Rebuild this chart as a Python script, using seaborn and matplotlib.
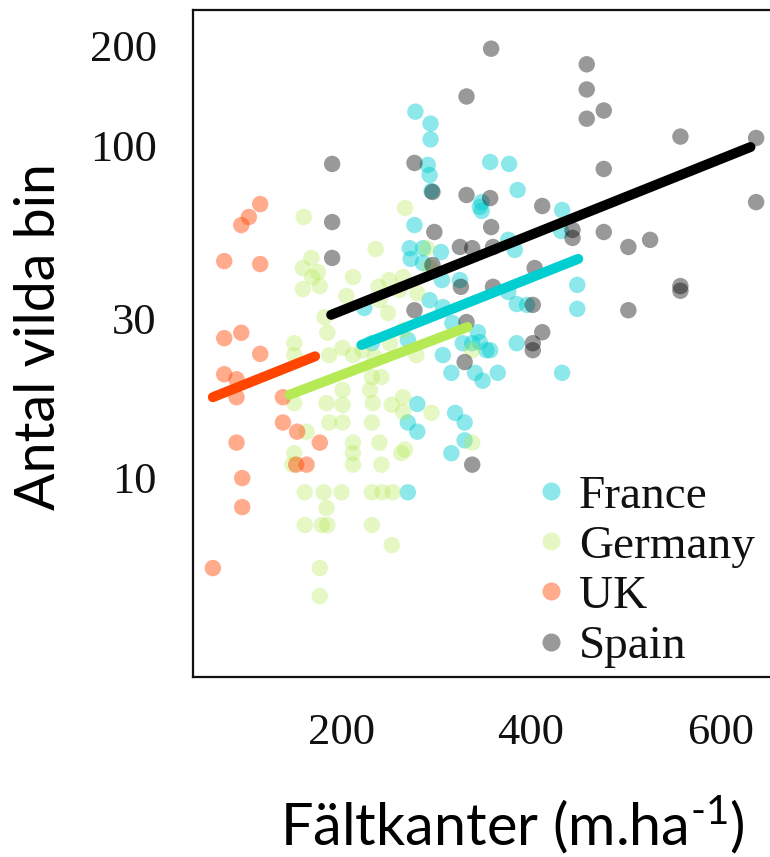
import numpy as np
import pandas as pd
import matplotlib
matplotlib.use("Agg")
import matplotlib.pyplot as plt
from matplotlib.lines import Line2D
import seaborn as sns

# ---------------- data ----------------
countries = ["France", "Germany", "UK", "Spain"]

france_x = [278, 294, 294, 291, 293, 295, 346, 357, 377, 386, 348, 348, 433, 432, 277, 272,
            286, 305, 273, 286, 306, 376, 383, 293, 376, 385, 396, 449, 449, 317, 307, 344,
            338, 357, 328, 385, 307, 316, 341, 349, 365, 433, 280, 270, 280, 320, 330, 330,
            316, 270, 232, 270, 346, 353, 224, 325]
france_y = [126, 116, 104, 87.1, 81.2, 72.7, 65.1, 88.9, 87.7, 73.2, 67.3, 63.3, 63.7, 55.1,
            57.4, 48.9, 48.9, 47.6, 45.4, 44.1, 39.2, 51.8, 48.3, 34.1, 36.1, 33.2, 33.0, 37.9,
            32.1, 29.1, 32.5, 27.3, 25.3, 24.1, 25.3, 25.3, 23.3, 20.6, 20.6, 19.5, 20.6, 20.6,
            16.6, 14.6, 13.7, 15.6, 14.6, 12.9, 11.8, 9.0, 25.3, 25.9, 25.5, 24.1, 32.3, 39.2]

germany_x = [160, 267, 236, 168, 159, 175, 169, 159, 177, 212, 205, 182, 185, 250, 239, 240,
             249, 265, 280, 290, 293, 150, 150, 187, 201, 212, 222, 235, 251, 265, 261, 232,
             242, 201, 230, 150, 184, 233, 265, 265, 279, 201, 253, 295, 187, 201, 232, 163,
             212, 240, 150, 212, 263, 148, 212, 242, 338, 338, 161, 181, 200, 232, 243, 254,
             184, 161, 179, 185, 232, 253, 177, 177, 267]
germany_y = [60.7, 64.6, 48.6, 45.7, 42.6, 41.4, 40.0, 36.8, 37.6, 40.0, 35.1, 30.3, 27.2,
             39.2, 37.4, 34.1, 31.2, 40.0, 35.8, 48.9, 42.9, 25.3, 23.3, 23.3, 24.5, 23.3,
             24.1, 23.0, 25.3, 27.7, 36.6, 20.0, 20.0, 18.3, 18.3, 16.7, 16.7, 16.7, 17.4,
             15.7, 23.3, 16.5, 16.5, 15.6, 14.6, 14.6, 14.6, 13.7, 12.7, 12.7, 11.8, 11.8,
             11.8, 10.9, 10.9, 10.9, 12.7, 24.1, 9.0, 9.0, 9.0, 9.0, 9.0, 9.0, 8.07, 7.17,
             7.17, 7.17, 7.17, 6.24, 5.32, 4.38, 12.1]

uk_x = [114, 102, 94, 76, 114, 76, 94, 114, 76, 89, 89, 138, 138, 153, 89, 177, 152, 163,
        95, 95, 64]
uk_y = [66.4, 60.7, 57.4, 44.7, 43.8, 26.2, 27.2, 23.5, 20.4, 19.7, 17.4, 17.4, 14.6, 13.7,
        12.7, 12.7, 10.9, 10.9, 9.93, 8.12, 5.32]

spain_x = [358, 459, 459, 477, 459, 332, 558, 638, 477, 638, 190, 277, 296, 332, 357, 412,
           190, 298, 358, 444, 444, 477, 190, 325, 338, 360, 503, 526, 296, 404, 558, 558,
           326, 360, 402, 277, 332, 412, 402, 402, 503, 330, 338]
spain_y = [195, 175, 147, 127, 120, 140, 106, 105, 84.7, 67.3, 87.7, 88.3, 72.2, 70.7, 69.2,
           65.5, 58.6, 54.7, 56.6, 55.5, 52.5, 54.7, 45.7, 49.3, 48.9, 49.3, 49.3, 51.8, 43.5,
           42.6, 37.6, 36.4, 37.4, 37.4, 33.0, 31.8, 29.3, 27.3, 25.3, 24.1, 31.8, 22.2, 10.9]

# fitted trend lines (start / end)
fit_x = {"France": [221, 450], "Germany": [145, 333], "UK": [64, 172], "Spain": [189, 632]}
fit_y = {"France": [25.0, 45.4], "Germany": [17.7, 28.3], "UK": [17.4, 23.1], "Spain": [30.8, 98.6]}

x_ticks = [200, 400, 600]
y_ticks = [10, 30, 100, 200]

# ---------------- styling ----------------
line_colors = {"France": "#00CED1", "Germany": "#B5EA55", "UK": "#FF4500", "Spain": "#000000"}
point_alpha = {"France": 0.45, "Germany": 0.35, "UK": 0.45, "Spain": 0.4}

sns.set_style("white")
plt.rcParams["mathtext.fontset"] = "custom"
plt.rcParams["mathtext.rm"] = "Lato"
plt.rcParams["mathtext.default"] = "rm"

frames = []
for c, xs, ys in [("France", france_x, france_y), ("Germany", germany_x, germany_y),
                  ("UK", uk_x, uk_y), ("Spain", spain_x, spain_y)]:
    frames.append(pd.DataFrame({"x": xs, "y": ys, "country": c}))
df = pd.concat(frames, ignore_index=True)

fig = plt.figure(figsize=(7.7, 8.57), dpi=100)
# axes extends past the right edge of the canvas (the reference is cropped there)
ax = fig.add_axes([193 / 770, 1 - 677 / 857, (900 - 193) / 770, (677 - 10) / 857])
ax.patch.set_edgecolor("none")
ax.patch.set_linewidth(0)

for c in countries:
    sub = df[df.country == c]
    sns.scatterplot(data=sub, x="x", y="y", color=line_colors[c], alpha=point_alpha[c],
                    s=140, edgecolor="none", linewidth=0, ax=ax, legend=False, zorder=2)

for c in ["Spain", "France", "Germany", "UK"]:
    fd = pd.DataFrame({"x": fit_x[c], "y": fit_y[c]})
    sns.lineplot(data=fd, x="x", y="y", color=line_colors[c], linewidth=7.2, ax=ax,
                 solid_capstyle="round", zorder=3, legend=False)

ax.set_yscale("log")
ax.set_xlim(43, 790)
ax.set_ylim(2.5, 255)
ax.set_xticks(x_ticks)
ax.set_xticklabels([str(v) for v in x_ticks])
ax.set_yticks(y_ticks)
ax.set_yticklabels([str(v) for v in y_ticks])
ax.yaxis.set_minor_locator(matplotlib.ticker.NullLocator())
ax.set_xlabel("")
ax.set_ylabel("")

for s in ax.spines.values():
    s.set_linewidth(1.6)
    s.set_color("#111111")
ax.spines["right"].set_visible(False)

ax.tick_params(axis="both", which="major", direction="out", length=14, width=1.6,
               color="#333333", pad=12, labelsize=32, labelcolor="#111111")
for lab in ax.get_xticklabels() + ax.get_yticklabels():
    lab.set_fontfamily("Liberation Serif")

# legend (placed in figure pixel terms so it does not depend on the axes width)
handles = [Line2D([0], [0], marker="o", linestyle="none", markersize=13,
                  markerfacecolor=line_colors[c], markeredgecolor="none",
                  alpha=point_alpha[c]) for c in countries]
leg = fig.legend(handles, countries, loc="upper left",
                 bbox_to_anchor=(508 / 770, 1 - 451 / 857),
                 frameon=False, borderpad=0, handlelength=0.8, handletextpad=0.2,
                 labelspacing=0.15, prop={"family": "Liberation Serif", "size": 34})
for t in leg.get_texts():
    t.set_color("#111111")

fig.text(40 / 770, 1 - 337 / 857, "Antal vilda bin", rotation=90, ha="center", va="center",
         fontsize=40, fontfamily="Lato", color="black")
fig.text(512 / 770, 1 - 845 / 857, r"Fältkanter (m.ha$^{\text{-1}}$)", ha="center",
         va="baseline", fontsize=41.5, fontfamily="Lato", color="black")

fig.savefig("out.png", dpi=100)
